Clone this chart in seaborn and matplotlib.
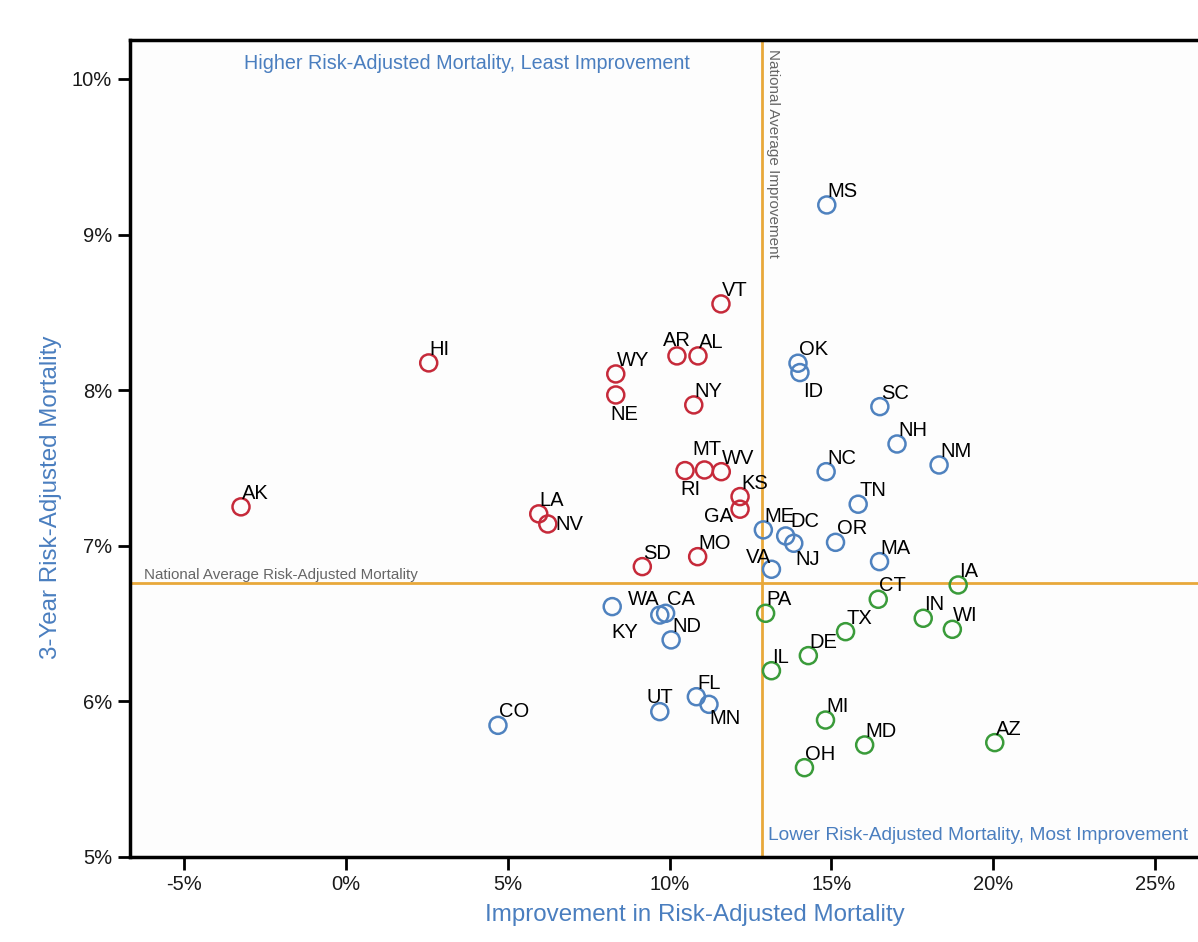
import numpy as np
import pandas as pd
import seaborn as sns
import matplotlib.pyplot as plt
from matplotlib import font_manager

# Datos (en %)
states = ['AK', 'HI', 'LA', 'NV', 'WY', 'NE', 'AR', 'AL', 'NY', 'VT', 'MT', 'RI', 'WV',
          'KS', 'GA', 'MO', 'SD',
          'MS', 'OK', 'ID', 'SC', 'NH', 'NM', 'NC', 'TN', 'ME', 'DC', 'NJ', 'OR', 'MA',
          'VA', 'KY', 'WA', 'CA', 'ND', 'UT', 'FL', 'MN', 'CO',
          'PA', 'IL', 'DE', 'TX', 'CT', 'IA', 'IN', 'WI', 'MI', 'MD', 'OH', 'AZ']
improvement = [-3.24, 2.56, 5.96, 6.24, 8.34, 8.34, 10.23, 10.88, 10.75, 11.59, 11.08, 10.48, 11.60,
               12.18, 12.18, 10.87, 9.16,
               14.86, 13.97, 14.03, 16.50, 17.03, 18.33, 14.84, 15.83, 12.90, 13.59, 13.84, 15.13, 16.49,
               13.15, 8.23, 9.70, 9.88, 10.05, 9.70, 10.83, 11.22, 4.70,
               12.97, 13.15, 14.29, 15.44, 16.45, 18.92, 17.84, 18.74, 14.82, 16.03, 14.17, 20.05]
mortality = [7.25, 8.175, 7.205, 7.14, 8.104, 7.969, 8.22, 8.22, 7.905, 8.554, 7.487, 7.483, 7.476,
             7.316, 7.235, 6.93, 6.866,
             9.19, 8.173, 8.113, 7.894, 7.654, 7.519, 7.476, 7.267, 7.102, 7.063, 7.016, 7.022, 6.898,
             6.849, 6.609, 6.555, 6.566, 6.395, 5.934, 6.030, 5.981, 5.846,
             6.566, 6.197, 6.294, 6.448, 6.656, 6.748, 6.534, 6.463, 5.880, 5.720, 5.574, 5.735]
groups = ['high'] * 17 + ['mid'] * 22 + ['low'] * 12

nat_improvement = 12.86
nat_mortality = 6.76

x_ticks = [-5, 0, 5, 10, 15, 20, 25]
y_ticks = [5, 6, 7, 8, 9, 10]

df = pd.DataFrame({'state': states, 'x': improvement, 'y': mortality, 'group': groups})

# Desplazamiento de etiquetas (píxeles) y alineación
label_pos = {
    'NE': (-5, -25, 'left'), 'RI': (-5, -24, 'left'), 'ID': (3, -24, 'left'),
    'KY': (-1, -31, 'left'), 'MN': (0, -20, 'left'), 'NV': (8, -6, 'left'),
    'GA': (-7, -13, 'right'), 'VA': (0, 6, 'right'), 'NJ': (2, -22, 'left'),
    'MT': (-12, 15, 'left'), 'AR': (-14, 10, 'left'), 'WA': (0, 10, 'right'),
    'UT': (-13, 9, 'left'), 'DC': (5, 9, 'left'),
}

names = {f.name for f in font_manager.fontManager.ttflist}
narrow = 'Liberation Sans Narrow' if 'Liberation Sans Narrow' in names else 'Liberation Sans'

sns.set_theme(style='ticks')
plt.rcParams['font.family'] = ['Liberation Sans', 'DejaVu Sans']

blue_txt = '#4A7EBF'
orange = '#E8A83A'
palette = {'high': '#C62A3A', 'mid': '#4F82BF', 'low': '#3A9B3A'}

fig = plt.figure(figsize=(11.98, 9.42), dpi=100)
ax = fig.add_axes([130 / 1198, 1 - 857 / 942, 1 - 130 / 1198, (857 - 40) / 942])
ax.set_facecolor('#FDFDFD')

ax.axvline(nat_improvement, color=orange, lw=2, zorder=1)
ax.axhline(nat_mortality, color=orange, lw=2, zorder=1)

sns.scatterplot(data=df, x='x', y='y', hue='group', palette=palette, s=150,
                legend=False, ax=ax, zorder=3)
pts = ax.collections[-1]
cols = pts.get_facecolors()
pts.set_edgecolors(cols)
pts.set_facecolors('none')
pts.set_linewidth(1.8)

for _, r in df.iterrows():
    dx, dy, ha = label_pos.get(r['state'], (1, 8, 'left'))
    ax.annotate(r['state'], (r['x'], r['y']), xytext=(dx, dy), textcoords='offset pixels',
                ha=ha, va='baseline', fontsize=14.5, color='black', zorder=4)

ax.set_xlim(-6.67, 26.33)
ax.set_ylim(5, 10.25)
ax.set_xticks(x_ticks)
ax.set_xticklabels([f'{t}%' for t in x_ticks], fontfamily=narrow, fontsize=14.5)
ax.set_yticks(y_ticks)
ax.set_yticklabels([f'{t}%' for t in y_ticks], fontfamily=narrow, fontsize=14.5)
ax.tick_params(axis='both', length=9, width=2, color='black', labelcolor='#1a1a1a', pad=4)

for side in ['left', 'bottom', 'top']:
    ax.spines[side].set_linewidth(2.5)
    ax.spines[side].set_color('black')
ax.spines['right'].set_visible(False)

ax.set_xlabel('Improvement in Risk-Adjusted Mortality', fontfamily=narrow, fontsize=17.4, color=blue_txt)
ax.set_ylabel('3-Year Risk-Adjusted Mortality', fontfamily=narrow, fontsize=17.4, color=blue_txt)
ax.xaxis.set_label_coords(0.529, -0.058)
ax.yaxis.set_label_coords(-0.064, 0.44)

ax.text(3.74, 10.064, 'Higher Risk-Adjusted Mortality, Least Improvement', ha='center', va='baseline',
        fontfamily=narrow, fontsize=14.2, color=blue_txt)
ax.text(nat_improvement + 0.18, 5.11, 'Lower Risk-Adjusted Mortality, Most Improvement', ha='left',
        va='baseline', fontfamily=narrow, fontsize=13.8, color=blue_txt, clip_on=False)
ax.text(-6.24, nat_mortality + 0.025, 'National Average Risk-Adjusted Mortality', ha='left', va='baseline',
        fontfamily=narrow, fontsize=10.9, color='#666666')
ax.text(nat_improvement + 0.12, 10.19, 'National Average Improvement', rotation=270, ha='left', va='top',
        fontfamily=narrow, fontsize=11, color='#666666')

plt.savefig('out.png', dpi=100)
